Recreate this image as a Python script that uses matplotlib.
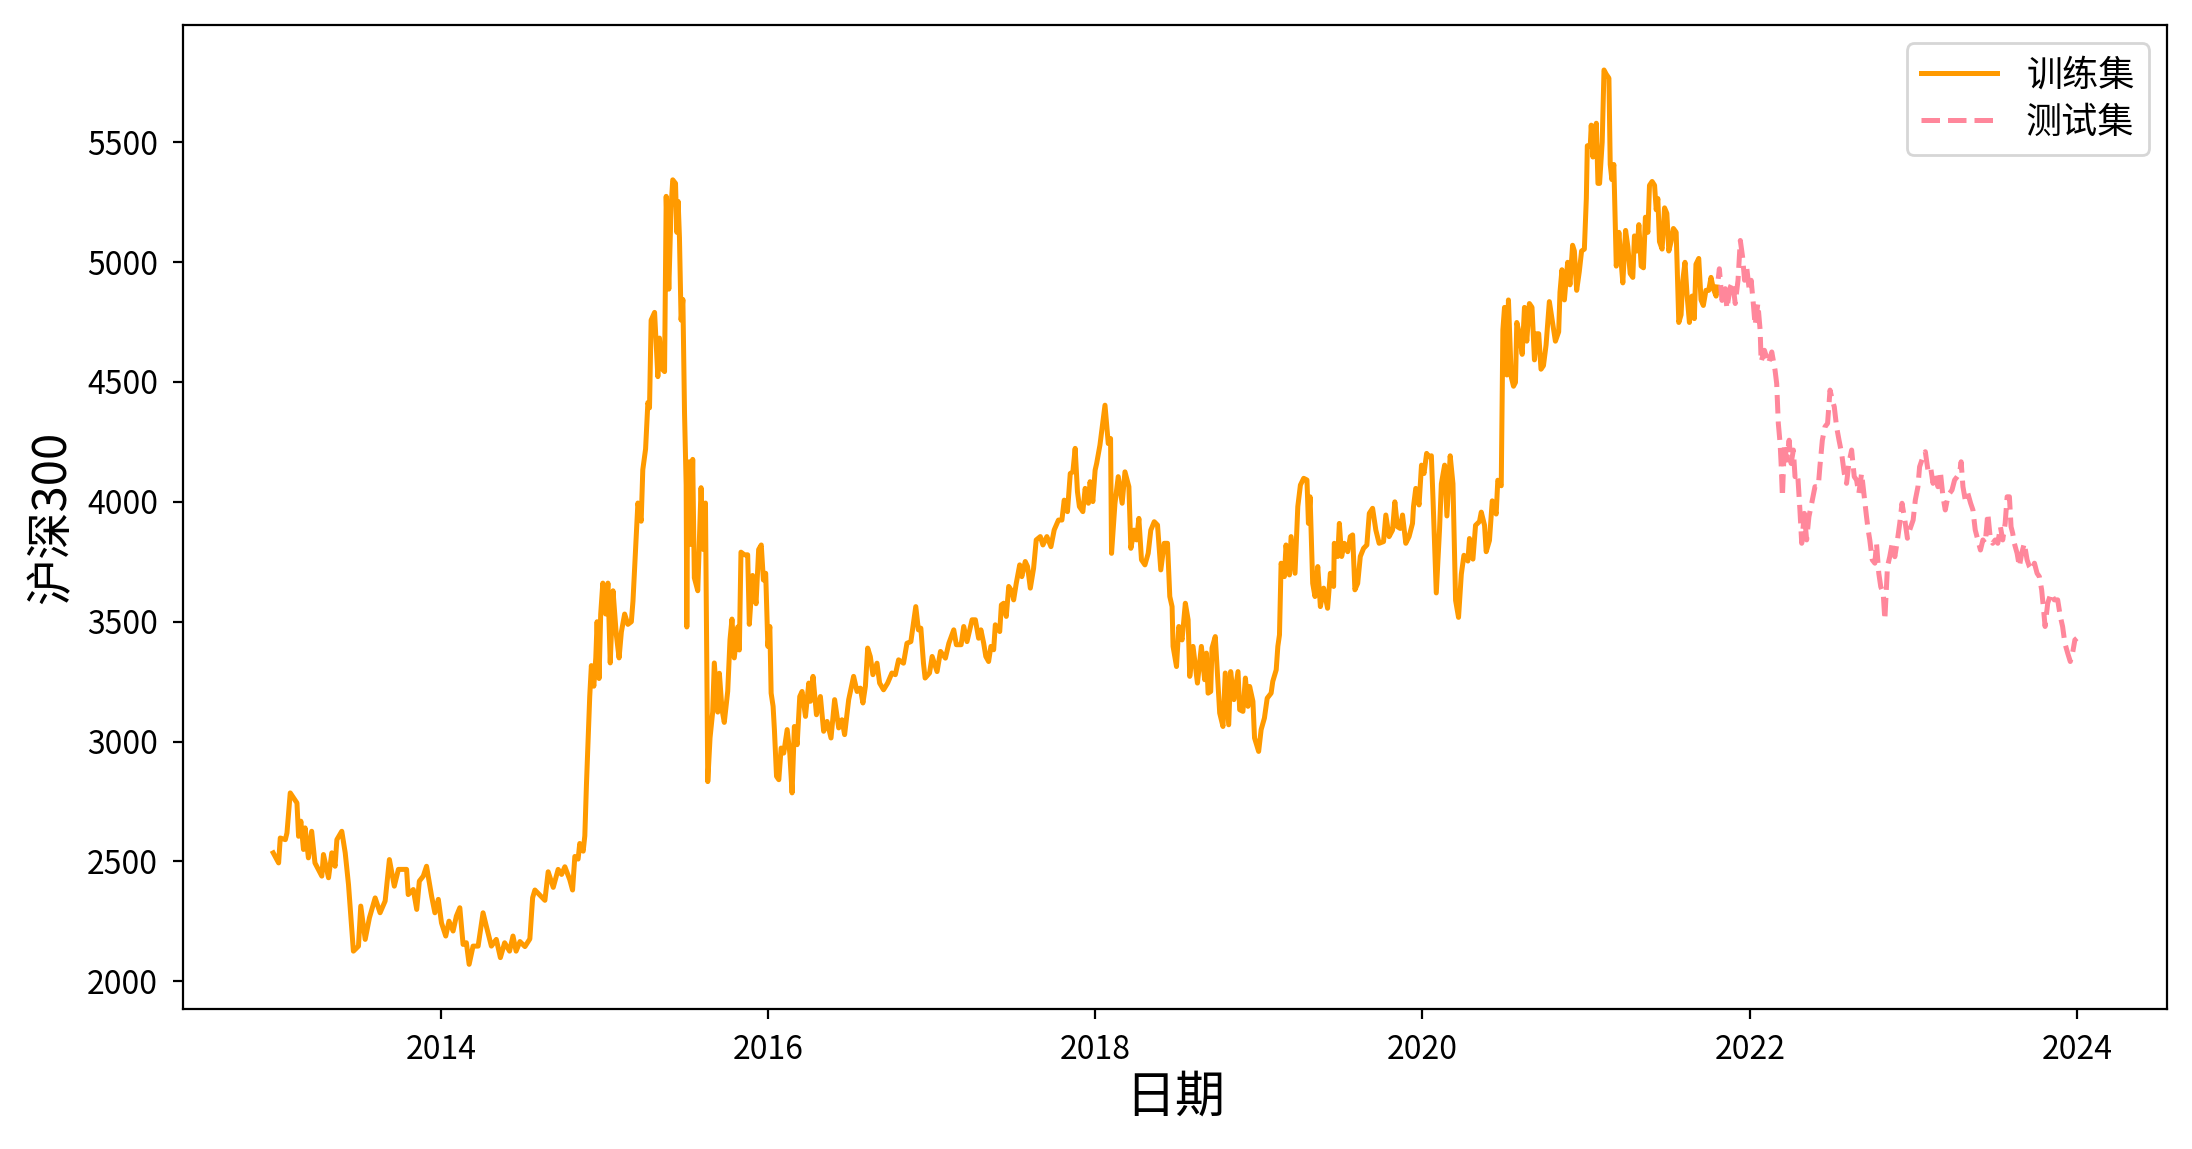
import matplotlib.pyplot as plt
import matplotlib.dates as mdates
import pandas as pd

plt.rcParams['font.family'] = ['Noto Sans CJK SC', 'DejaVu Sans']
plt.rcParams['axes.unicode_minus'] = False

# dates as decimal years
train_year = [
    2012.977, 2013.008, 2013.018, 2013.049, 2013.059, 2013.079, 2013.12, 2013.13, 2013.144, 2013.16,
    2013.17, 2013.19, 2013.21, 2013.23, 2013.272, 2013.282, 2013.313, 2013.333, 2013.353, 2013.364,
    2013.394, 2013.415, 2013.435, 2013.465, 2013.496, 2013.51, 2013.537, 2013.563, 2013.598, 2013.628,
    2013.659, 2013.685, 2013.715, 2013.74, 2013.79, 2013.80, 2013.831, 2013.852, 2013.868, 2013.892,
    2013.912, 2013.943, 2013.963, 2013.984, 2014.004, 2014.03, 2014.05, 2014.075, 2014.095, 2014.116,
    2014.136, 2014.156, 2014.173, 2014.197, 2014.228, 2014.258, 2014.278, 2014.309, 2014.339, 2014.364,
    2014.39, 2014.42, 2014.441, 2014.46,
    # 2014.5 - 2015
    2014.4835, 2014.514, 2014.544, 2014.561, 2014.575, 2014.605, 2014.636, 2014.656, 2014.687, 2014.717,
    2014.738, 2014.758, 2014.788, 2014.805, 2014.819, 2014.839, 2014.849, 2014.87, 2014.88, 2014.89,
    2014.91, 2014.92, 2014.935, 2014.947, 2014.955, 2014.967, 2014.977, 2014.99, 2015.008, 2015.022,
    2015.036, 2015.053, 2015.073, 2015.09, 2015.104, 2015.124, 2015.144, 2015.165, 2015.175, 2015.19,
    2015.205, 2015.225, 2015.235, 2015.252, 2015.266, 2015.276, 2015.286, 2015.307, 2015.327, 2015.337,
    2015.353, 2015.368, 2015.378, 2015.394, 2015.408, 2015.418, 2015.435, 2015.443, 2015.451, 2015.459,
    2015.469, 2015.48, 2015.49, 2015.5, 2015.504, 2015.51, 2015.52, 2015.53, 2015.54, 2015.55,
    2015.571, 2015.591, 2015.605, 2015.618, 2015.632, 2015.646, 2015.662, 2015.672, 2015.693, 2015.703,
    2015.719, 2015.733, 2015.754, 2015.768, 2015.78, 2015.794, 2015.815, 2015.825, 2015.835, 2015.856,
    2015.876, 2015.886, 2015.906, 2015.927, 2015.943,
    # 2016 - 2017
    2015.959, 2015.972, 2015.986, 2016.0, 2016.012, 2016.02, 2016.032, 2016.04, 2016.053, 2016.067,
    2016.081, 2016.097, 2016.118, 2016.134, 2016.148, 2016.162, 2016.179, 2016.195, 2016.209, 2016.23,
    2016.25, 2016.26, 2016.276, 2016.297, 2016.321, 2016.341, 2016.362, 2016.386, 2016.408, 2016.433,
    2016.453, 2016.469, 2016.494, 2016.524, 2016.545, 2016.565, 2016.581, 2016.596, 2016.61, 2016.626,
    2016.642, 2016.667, 2016.683, 2016.707, 2016.732, 2016.758, 2016.779, 2016.799, 2016.829, 2016.85,
    2016.874, 2016.89, 2016.904, 2016.92, 2016.935, 2016.951, 2016.961, 2016.988, 2017.002, 2017.032,
    2017.053, 2017.083, 2017.104, 2017.134, 2017.15, 2017.179, 2017.195, 2017.215, 2017.246, 2017.266,
    2017.286, 2017.3, 2017.317, 2017.33, 2017.347, 2017.361, 2017.378, 2017.388, 2017.415, 2017.425,
    2017.439, 2017.455, 2017.47, 2017.49, 2017.5, 2017.516, 2017.537, 2017.55, 2017.571, 2017.585,
    2017.602, 2017.622, 2017.638, 2017.663, 2017.679, 2017.703, 2017.728, 2017.748, 2017.774, 2017.795,
    2017.809, 2017.829, 2017.846, 2017.862, 2017.876, 2017.89, 2017.902, 2017.923, 2017.937, 2017.957,
    2017.967, 2017.984, 2017.998,
    # 2018 - 2019
    2018.008, 2018.028, 2018.059, 2018.079, 2018.093, 2018.099, 2018.12, 2018.14, 2018.164, 2018.181,
    2018.205, 2018.217, 2018.237, 2018.252, 2018.266, 2018.282, 2018.303, 2018.323, 2018.339, 2018.36,
    2018.38, 2018.4, 2018.421, 2018.441, 2018.455, 2018.469, 2018.475, 2018.496, 2018.51, 2018.53,
    2018.55, 2018.567, 2018.577, 2018.597, 2018.624, 2018.648, 2018.668, 2018.679, 2018.689, 2018.705,
    2018.713, 2018.733, 2018.76, 2018.78, 2018.794, 2018.815, 2018.827, 2018.847, 2018.872, 2018.882,
    2018.902, 2018.917, 2018.933, 2018.943, 2018.963, 2018.973, 2018.998, 2019.014, 2019.034, 2019.051,
    2019.075, 2019.085, 2019.106, 2019.116, 2019.126, 2019.136, 2019.156, 2019.166, 2019.187, 2019.197,
    2019.221, 2019.238, 2019.254, 2019.274, 2019.294, 2019.303, 2019.313, 2019.329, 2019.343, 2019.36,
    2019.376, 2019.396, 2019.42, 2019.437, 2019.457, 2019.461, 2019.482, 2019.492, 2019.506, 2019.522,
    2019.543, 2019.559, 2019.573, 2019.587, 2019.604, 2019.62, 2019.64, 2019.66, 2019.675, 2019.695,
    2019.715, 2019.735, 2019.762, 2019.776, 2019.796, 2019.817, 2019.831, 2019.847, 2019.864, 2019.878,
    2019.898, 2019.918, 2019.939, 2019.945, 2019.959, 2019.979, 2019.994, 2020.01, 2020.026, 2020.04,
    # 2020 - 2021
    2020.055, 2020.065, 2020.085, 2020.105, 2020.116, 2020.136, 2020.15, 2020.17, 2020.187, 2020.203,
    2020.221, 2020.238, 2020.254, 2020.278, 2020.288, 2020.309, 2020.325, 2020.349, 2020.36, 2020.38,
    2020.39, 2020.41, 2020.427, 2020.451, 2020.461, 2020.482, 2020.492, 2020.502, 2020.516, 2020.526,
    2020.543, 2020.557, 2020.569, 2020.577, 2020.593, 2020.61, 2020.624, 2020.638, 2020.654, 2020.67,
    2020.685, 2020.699, 2020.711, 2020.725, 2020.74, 2020.756, 2020.776, 2020.792, 2020.813, 2020.833,
    2020.841, 2020.853, 2020.868, 2020.888, 2020.902, 2020.918, 2020.929, 2020.943, 2020.959, 2020.973,
    2020.99, 2021.0, 2021.006, 2021.024, 2021.03, 2021.04, 2021.061, 2021.071, 2021.081, 2021.097,
    2021.108, 2021.122, 2021.138, 2021.146, 2021.156, 2021.168, 2021.183, 2021.199, 2021.211, 2021.223,
    2021.24, 2021.254, 2021.268, 2021.284, 2021.294, 2021.309, 2021.321, 2021.335, 2021.349, 2021.361,
    2021.376, 2021.386, 2021.402, 2021.417, 2021.427, 2021.437, 2021.447, 2021.463, 2021.478, 2021.492,
    2021.504, 2021.518, 2021.532, 2021.549, 2021.565, 2021.579, 2021.589, 2021.603, 2021.616, 2021.63,
    2021.646, 2021.66, 2021.67, 2021.687, 2021.701, 2021.715, 2021.731, 2021.748, 2021.762, 2021.776,
    2021.793, 2021.799,
]
train_value = [
    2536, 2494, 2598, 2591, 2619, 2786, 2744, 2605, 2668, 2550,
    2640, 2515, 2626, 2494, 2439, 2529, 2432, 2536, 2480, 2591,
    2626, 2536, 2404, 2126, 2147, 2314, 2175, 2265, 2348, 2286,
    2335, 2508, 2397, 2467, 2467, 2362, 2383, 2300, 2418, 2439,
    2480, 2355, 2286, 2342, 2244, 2189, 2251, 2210, 2272, 2307,
    2154, 2161, 2071, 2147, 2147, 2286, 2230, 2147, 2175, 2099,
    2161, 2126, 2189, 2126,
    2166, 2145, 2177, 2349, 2381, 2360, 2338, 2457, 2392, 2467,
    2446, 2478, 2424, 2381, 2521, 2510, 2575, 2543, 2607, 2822,
    3188, 3317, 3231, 3349, 3500, 3263, 3532, 3661, 3532, 3661,
    3328, 3629, 3446, 3349, 3457, 3532, 3489, 3500, 3586, 3790,
    3995, 3919, 4134, 4220, 4414, 4392, 4758, 4790, 4522, 4683,
    4554, 4543, 5274, 4887, 5231, 5343, 5328, 5124, 5253, 5102,
    4758, 4844, 4371, 4070, 3478, 4156, 4167, 3822, 4177, 3683,
    3629, 4059, 3801, 3995, 2833, 3016, 3123, 3328, 3123, 3285,
    3134, 3080, 3210, 3425, 3511, 3349, 3478, 3382, 3790, 3779,
    3779, 3489, 3693, 3575, 3801,
    3820, 3674, 3702, 3397, 3480, 3202, 3147, 3050, 2855, 2841,
    2973, 2952, 3050, 2952, 2786, 3063, 2987, 3188, 3209, 3105,
    3244, 3168, 3272, 3112, 3188, 3043, 3084, 3015, 3175, 3057,
    3091, 3029, 3175, 3272, 3209, 3223, 3161, 3230, 3390, 3355,
    3279, 3327, 3244, 3216, 3244, 3286, 3279, 3341, 3327, 3410,
    3417, 3494, 3563, 3466, 3473, 3327, 3265, 3286, 3355, 3292,
    3376, 3348, 3410, 3466, 3404, 3404, 3480, 3417, 3508, 3508,
    3431, 3466, 3410, 3355, 3334, 3397, 3383, 3487, 3459, 3570,
    3577, 3522, 3647, 3626, 3591, 3660, 3737, 3688, 3751, 3730,
    3640, 3723, 3841, 3855, 3820, 3855, 3813, 3883, 3924, 3924,
    4007, 3959, 4118, 4125, 4223, 4042, 3980, 3959, 4056, 3994,
    4084, 4001, 4132,
    4160, 4236, 4403, 4243, 4264, 3785, 3994, 4105, 3994, 4125,
    4063, 3806, 3882, 3841, 3931, 3758, 3737, 3785, 3882, 3917,
    3903, 3716, 3827, 3827, 3605, 3563, 3397, 3313, 3480, 3424,
    3577, 3508, 3272, 3397, 3244, 3397, 3258, 3369, 3202, 3209,
    3390, 3438, 3119, 3063, 3286, 3070, 3292, 3175, 3292, 3133,
    3126, 3265, 3147, 3230, 3168, 3015, 2959, 3050, 3098, 3181,
    3202, 3251, 3299, 3397, 3445, 3744, 3688, 3820, 3695, 3855,
    3702, 3980, 4070, 4098, 4091, 3910, 4021, 3660, 3605, 3730,
    3563, 3640, 3556, 3702, 3647, 3827, 3772, 3910, 3772, 3827,
    3792, 3855, 3862, 3633, 3660, 3772, 3806, 3820, 3952, 3973,
    3882, 3827, 3834, 3945, 3855, 3882, 4000, 3896, 3889, 3945,
    3827, 3855, 3910, 3980, 4056, 3987, 4153, 4118, 4202, 4188,
    4192, 4012, 3620, 3887, 4075, 4153, 3941, 4192, 4075, 3589,
    3518, 3698, 3777, 3753, 3847, 3761, 3902, 3918, 3957, 3902,
    3792, 3839, 4004, 3949, 4090, 4067, 4717, 4811, 4529, 4842,
    4521, 4482, 4498, 4748, 4701, 4615, 4811, 4670, 4827, 4811,
    4592, 4701, 4701, 4553, 4568, 4654, 4835, 4764, 4670, 4709,
    4874, 4968, 4842, 4999, 4905, 5070, 5046, 4882, 4960, 5046,
    5054, 5265, 5485, 5485, 5571, 5438, 5579, 5328, 5328, 5501,
    5801, 5783, 5767, 5407, 5344, 5407, 4983, 5124, 5015, 4913,
    5132, 5062, 4952, 4936, 5109, 5046, 5156, 4983, 4976, 5187,
    5124, 5320, 5336, 5320, 5218, 5265, 5085, 5054, 5226, 5203,
    5046, 5085, 5140, 5124, 4748, 4780, 4921, 4999, 4858, 4748,
    4858, 4764, 4991, 5015, 4842, 4819, 4882, 4882, 4936, 4889,
    4858, 4896,
]

test_year = [
    2021.806, 2021.813, 2021.829, 2021.849, 2021.859, 2021.88, 2021.894, 2021.91, 2021.927, 2021.941,
    2021.955, 2021.967, 2021.981, 2021.996, 2022.008, 2022.022, 2022.032, 2022.049, 2022.063, 2022.069,
    2022.089, 2022.114, 2022.134, 2022.154, 2022.164, 2022.174, 2022.185, 2022.191, 2022.199, 2022.211,
    2022.225, 2022.24, 2022.252, 2022.266, 2022.276, 2022.292, 2022.306, 2022.317, 2022.333, 2022.347,
    2022.361, 2022.378, 2022.398, 2022.418, 2022.428, 2022.443, 2022.459, 2022.475, 2022.49, 2022.504,
    2022.516, 2022.53, 2022.545, 2022.561, 2022.577, 2022.591, 2022.605, 2022.622, 2022.638, 2022.652,
    2022.666, 2022.683, 2022.699, 2022.713, 2022.723, 2022.733, 2022.748, 2022.764, 2022.774, 2022.788,
    2022.8, 2022.815, 2022.825, 2022.841, 2022.855, 2022.87, 2022.886, 2022.902, 2022.916, 2022.93,
    2022.947, 2022.963, 2022.977, 2022.998, 2023.012, 2023.028, 2023.038, 2023.059, 2023.073, 2023.089,
    2023.105, 2023.12, 2023.134, 2023.15, 2023.166, 2023.181, 2023.195, 2023.207, 2023.221, 2023.236,
    2023.252, 2023.268, 2023.282, 2023.292, 2023.303, 2023.317, 2023.333, 2023.35, 2023.364, 2023.378,
    2023.394, 2023.41, 2023.425, 2023.439, 2023.455, 2023.471, 2023.485, 2023.5, 2023.516, 2023.532,
    2023.546, 2023.561, 2023.573, 2023.587, 2023.597, 2023.607, 2023.617, 2023.634, 2023.648, 2023.662,
    2023.678, 2023.695, 2023.709, 2023.723, 2023.74, 2023.756, 2023.77, 2023.784, 2023.796, 2023.805,
    2023.821, 2023.841, 2023.861, 2023.882, 2023.898, 2023.912, 2023.926, 2023.943, 2023.959, 2023.973,
    2023.987, 2023.999,
]
test_value = [
    4930, 4972, 4840, 4889, 4806, 4896, 4917, 4827, 4924, 5090,
    5021, 4924, 4972, 4882, 4924, 4820, 4736, 4827, 4715, 4584,
    4632, 4577, 4625, 4549, 4493, 4327, 4243, 4160, 4021, 4243,
    4174, 4257, 4160, 4216, 4105, 4119, 3966, 3827, 3952, 3841,
    3938, 3994, 4063, 4063, 4146, 4257, 4313, 4327, 4466, 4424,
    4396, 4313, 4257, 4202, 4119, 4077, 4160, 4216, 4105, 4091,
    4035, 4119, 4021, 3938, 3883, 3841, 3758, 3744, 3827, 3702,
    3646, 3619, 3508, 3730, 3771, 3827, 3771, 3841, 3910, 3994,
    3924, 3848, 3883, 3924, 4008, 4063, 4146, 4188, 4209, 4132,
    4146, 4077, 4119, 4063, 4119, 4021, 3966, 4008, 4035, 4049,
    4091, 4105, 4119, 4167, 4063, 4008, 4035, 3994, 3966, 3883,
    3841, 3799, 3841, 3827, 3952, 3841, 3827, 3841, 3827, 3896,
    3841, 3910, 4021, 4021, 3896, 3869, 3827, 3785, 3730, 3785,
    3827, 3758, 3730, 3716, 3744, 3702, 3688, 3633, 3549, 3480,
    3577, 3619, 3591, 3591, 3522, 3480, 3410, 3369, 3334, 3369,
    3424, 3431,
]


def to_date(years):
    return [(pd.Timestamp(int(y), 1, 1) + pd.Timedelta(days=(y - int(y)) * 365.25)).to_pydatetime()
            for y in years]


fig = plt.figure(figsize=(10.96, 5.745), dpi=200)
ax = fig.add_axes([0.0835, 0.1218, 0.9051, 0.8562])

ax.plot(to_date(train_year), train_value, color='#FF9A00', lw=1.8, label='训练集')
ax.plot(to_date(test_year), test_value, color='#FF879B', lw=1.8, ls='--', label='测试集')

ax.xaxis.set_major_locator(mdates.YearLocator(2))
ax.xaxis.set_major_formatter(mdates.DateFormatter('%Y'))
ax.tick_params(labelsize=11.5, pad=5.5)
ax.set_xlabel('日期', fontsize=18, labelpad=2)
ax.set_ylabel('沪深300', fontsize=17, labelpad=4)
ax.legend(loc='upper right', fontsize=13, labelspacing=0.3, handlelength=2.1)

fig.savefig('out.png', dpi=200)
